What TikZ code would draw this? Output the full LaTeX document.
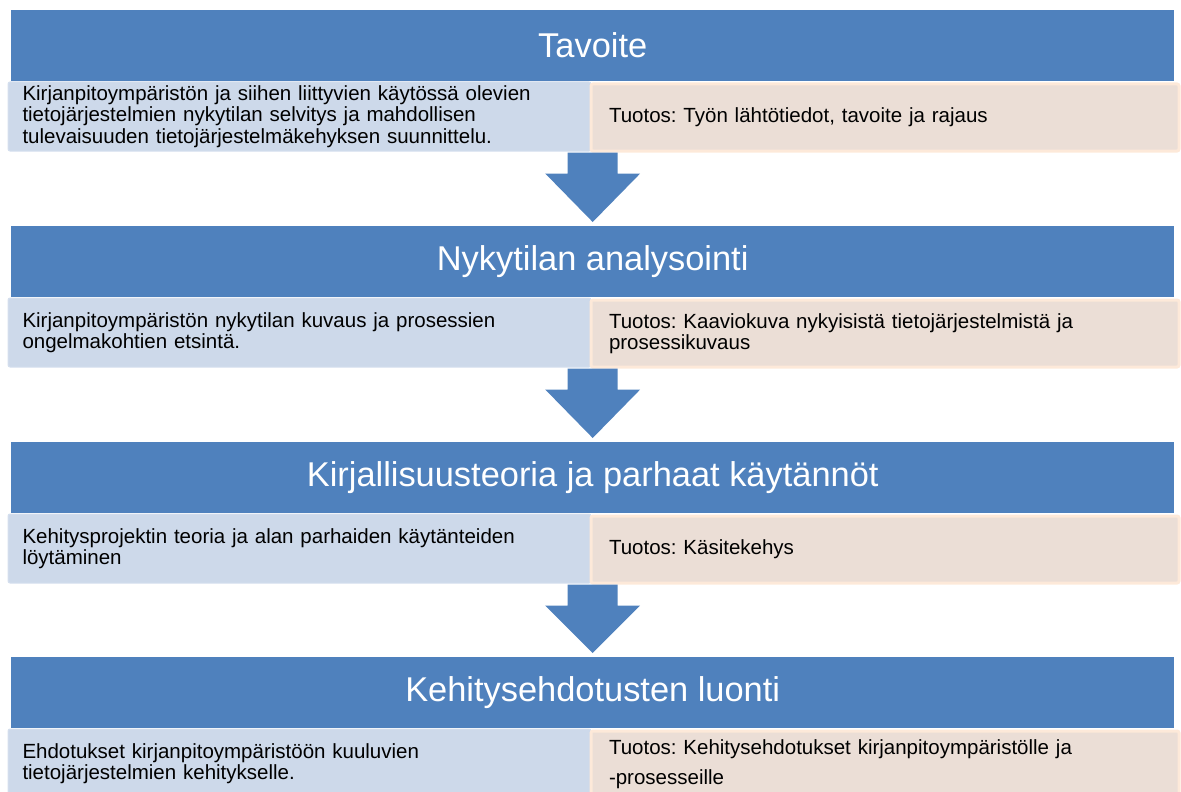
\documentclass[tikz,border=0pt]{standalone}
\usepackage{fontspec}
\setmainfont{Liberation Sans}
\usetikzlibrary{calc}
\frenchspacing

\definecolor{headblue}{HTML}{4F81BD}
\definecolor{goalfill}{HTML}{CDD9EA}
\definecolor{goalline}{HTML}{D5DFEE}
\definecolor{outfill}{HTML}{EBDED6}
\definecolor{outline}{HTML}{FDE9D9}

\begin{document}
\begin{tikzpicture}[x=1pt,y=-1pt,
	head/.style={fill=headblue, text=white, anchor=north west, inner sep=0pt,
		minimum width=1163pt, minimum height=71pt, font=\fontsize{34.4}{40}\selectfont},
	goal/.style={fill=goalfill, draw=goalline, line width=1pt, rounded corners=2pt,
		anchor=north west, inner xsep=14.5pt, inner ysep=0pt, text width=554pt,
		minimum height=69pt, align=left, font=\fontsize{20.5}{21.5}\selectfont},
	result/.style={fill=outfill, draw=outline, line width=3pt, rounded corners=2pt,
		anchor=north west, inner xsep=18pt, inner ysep=0pt, text width=552pt,
		minimum height=67pt, align=left, font=\fontsize{20.5}{21.5}\selectfont}]

	\useasboundingbox (0,0) rectangle (1181,792);
	\clip (0,0) rectangle (1181,792);

	\node[head] (h1) at (11,10) {Tavoite};
	\node[goal] (l1) at (7.5,81.5) {Kirjanpitoympäristön ja siihen liittyvien käytössä olevien\\
		tietojärjestelmien nykytilan selvitys ja mahdollisen\\
		tulevaisuuden tietojärjestelmäkehyksen suunnittelu.};
	\node[result] (r1) at (589.5,82.5) {Tuotos: Työn lähtötiedot, tavoite ja rajaus};

	\node[head] (h2) at (11,226) {Nykytilan analysointi};
	\node[goal] (l2) at (7.5,297.5) {Kirjanpitoympäristön nykytilan kuvaus ja prosessien\\
		ongelmakohtien etsintä.};
	\node[result] (r2) at (589.5,298.5) {Tuotos: Kaaviokuva nykyisistä tietojärjestelmistä ja\\
		prosessikuvaus};

	\node[head] (h3) at (11,442) {Kirjallisuusteoria ja parhaat käytännöt};
	\node[goal] (l3) at (7.5,513.5) {Kehitysprojektin teoria ja alan parhaiden käytänteiden\\
		löytäminen};
	\node[result] (r3) at (589.5,514.5) {Tuotos: Käsitekehys};

	\node[head] (h4) at (11,657) {Kehitysehdotusten luonti};
	\node[goal] (l4) at (7.5,728.5) {Ehdotukset kirjanpitoympäristöön kuuluvien\\
		tietojärjestelmien kehitykselle.};
	\node[result, font=\fontsize{20.5}{30}\selectfont] (r4) at (589.5,729.5) {Tuotos: Kehitysehdotukset kirjanpitoympäristölle ja\\
		-prosesseille};

	% block arrows between the steps
	\foreach \a/\b in {1/2, 2/3, 3/4}{
		\coordinate (s\a) at (h\a.south |- l\a.south);
		\coordinate (t\a) at ($(h\b.north)+(0,-4)$);
		\fill[headblue] ($(s\a)+(-25,1)$) -- ($(s\a)+(-25,22)$) -- ($(s\a)+(-47.5,22)$)
			-- (t\a) -- ($(s\a)+(47.5,22)$) -- ($(s\a)+(25,22)$) -- ($(s\a)+(25,1)$) -- cycle;
	}

\end{tikzpicture}
\end{document}
